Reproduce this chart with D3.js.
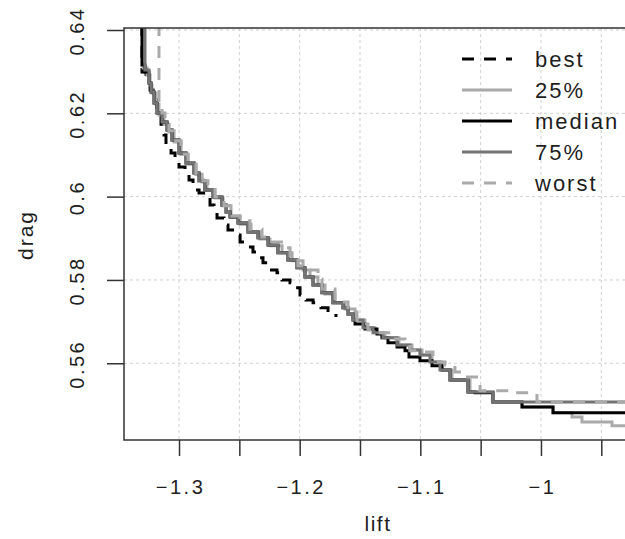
<!DOCTYPE html>
<html>
<head>
<meta charset="utf-8">
<script src="https://cdn.jsdelivr.net/npm/d3@7"></script>
<style>
  body { margin: 0; background: #fff; }
  text { font-family: "Liberation Sans", Arial, sans-serif; fill: #1e1e1e; }
</style>
</head>
<body>
<div id="chart"></div>
<script>
// series: [lift, drag] pairs (step fronts)
var best = [
    [-1.3307, 0.652], [-1.3307, 0.6299], [-1.3273, 0.6280], [-1.3240, 0.6256], [-1.3215, 0.6232],
    [-1.3182, 0.6203], [-1.3149, 0.6174], [-1.3124, 0.6148], [-1.3108, 0.6119], [-1.3066, 0.6105],
    [-1.3033, 0.6093], [-1.3000, 0.6071], [-1.2950, 0.6057], [-1.2917, 0.6040], [-1.2884, 0.6016],
    [-1.2834, 0.6009], [-1.2776, 0.5997], [-1.2743, 0.5980], [-1.2710, 0.5963], [-1.2685, 0.5949],
    [-1.2627, 0.5932], [-1.2594, 0.5920], [-1.2528, 0.5908], [-1.2494, 0.5891], [-1.2428, 0.5879],
    [-1.2387, 0.5867], [-1.2337, 0.5853], [-1.2304, 0.5841], [-1.2254, 0.5824], [-1.2188, 0.5817],
    [-1.2146, 0.5800], [-1.2080, 0.5793], [-1.2047, 0.5781], [-1.1997, 0.5764], [-1.1947, 0.5752],
    [-1.1889, 0.5745], [-1.1823, 0.5733], [-1.1765, 0.5723], [-1.1699, 0.5711]
];

var q25 = [
    [-1.3298, 0.652], [-1.3298, 0.6309], [-1.3265, 0.6292], [-1.3240, 0.6268], [-1.3224, 0.6249],
    [-1.3191, 0.6222], [-1.3166, 0.6196], [-1.3124, 0.6174], [-1.3083, 0.6155], [-1.3041, 0.6131],
    [-1.2983, 0.6102], [-1.2925, 0.6078], [-1.2859, 0.6054], [-1.2809, 0.6035], [-1.2768, 0.6016],
    [-1.2702, 0.5997], [-1.2635, 0.5978], [-1.2569, 0.5951], [-1.2494, 0.5934], [-1.2403, 0.5915],
    [-1.2329, 0.5898], [-1.2246, 0.5882], [-1.2146, 0.5865], [-1.2063, 0.5846], [-1.1972, 0.5824],
    [-1.1914, 0.5807], [-1.1848, 0.5788], [-1.1790, 0.5766], [-1.1707, 0.5745], [-1.1624, 0.5730],
    [-1.1541, 0.5704], [-1.1459, 0.5685], [-1.1376, 0.5673], [-1.1293, 0.5661], [-1.1177, 0.5644],
    [-1.1069, 0.5632], [-1.0986, 0.5620], [-1.0903, 0.5603], [-1.0820, 0.5584], [-1.0737, 0.5560],
    [-1.0588, 0.5531], [-1.0398, 0.5507], [-1.0157, 0.5495], [-0.9900, 0.5481], [-0.9743, 0.5471],
    [-0.9660, 0.5459], [-0.9411, 0.5450], [-0.9279, 0.5450]
];

var median = [
    [-1.3307, 0.652], [-1.3307, 0.6316], [-1.3282, 0.6299], [-1.3249, 0.6273], [-1.3232, 0.6251],
    [-1.3207, 0.6225], [-1.3182, 0.6201], [-1.3141, 0.6179], [-1.3099, 0.6160], [-1.3058, 0.6136],
    [-1.3000, 0.6105], [-1.2942, 0.6081], [-1.2876, 0.6057], [-1.2834, 0.6038], [-1.2785, 0.6016],
    [-1.2718, 0.5999], [-1.2644, 0.5980], [-1.2610, 0.5963], [-1.2577, 0.5951], [-1.2511, 0.5937],
    [-1.2428, 0.5915], [-1.2345, 0.5901], [-1.2262, 0.5884], [-1.2180, 0.5865], [-1.2097, 0.5848],
    [-1.2022, 0.5829], [-1.1956, 0.5807], [-1.1889, 0.5788], [-1.1815, 0.5769], [-1.1724, 0.5745],
    [-1.1641, 0.5733], [-1.1599, 0.5718], [-1.1558, 0.5704], [-1.1541, 0.5694], [-1.1459, 0.5682],
    [-1.1359, 0.5670], [-1.1318, 0.5661], [-1.1268, 0.5649], [-1.1193, 0.5639], [-1.1127, 0.5630],
    [-1.1094, 0.5615], [-1.1003, 0.5606], [-1.0903, 0.5594], [-1.0820, 0.5584], [-1.0754, 0.5560],
    [-1.0605, 0.5531], [-1.0547, 0.5529], [-1.0398, 0.5507], [-1.0157, 0.5495], [-0.9900, 0.5481],
    [-0.9279, 0.5481]
];

var q75 = [
    [-1.3282, 0.652], [-1.3282, 0.6304], [-1.3249, 0.6273], [-1.3232, 0.6251], [-1.3207, 0.6225],
    [-1.3182, 0.6201], [-1.3141, 0.6179], [-1.3099, 0.6160], [-1.3058, 0.6136], [-1.3000, 0.6105],
    [-1.2942, 0.6081], [-1.2876, 0.6057], [-1.2834, 0.6038], [-1.2785, 0.6016], [-1.2718, 0.5999],
    [-1.2644, 0.5980], [-1.2610, 0.5963], [-1.2577, 0.5951], [-1.2511, 0.5937], [-1.2428, 0.5915],
    [-1.2345, 0.5901], [-1.2262, 0.5884], [-1.2180, 0.5865], [-1.2097, 0.5848], [-1.2022, 0.5829],
    [-1.1956, 0.5807], [-1.1889, 0.5788], [-1.1815, 0.5769], [-1.1724, 0.5745], [-1.1641, 0.5733],
    [-1.1599, 0.5718], [-1.1558, 0.5704], [-1.1475, 0.5685], [-1.1392, 0.5673], [-1.1309, 0.5661],
    [-1.1193, 0.5644], [-1.1086, 0.5632], [-1.1003, 0.5620], [-1.0920, 0.5603], [-1.0837, 0.5584],
    [-1.0754, 0.5560], [-1.0605, 0.5531], [-1.0398, 0.5507], [-0.9279, 0.5507]
];

var worst = [
    [-1.3166, 0.652], [-1.3166, 0.6227], [-1.3141, 0.6201], [-1.3116, 0.6179], [-1.3083, 0.6158],
    [-1.3041, 0.6134], [-1.2983, 0.6102], [-1.2925, 0.6078], [-1.2859, 0.6054], [-1.2801, 0.6038],
    [-1.2760, 0.6021], [-1.2702, 0.5999], [-1.2627, 0.5978], [-1.2561, 0.5954], [-1.2494, 0.5942],
    [-1.2412, 0.5922], [-1.2312, 0.5903], [-1.2262, 0.5891], [-1.2138, 0.5877], [-1.2080, 0.5853],
    [-1.2014, 0.5834], [-1.1914, 0.5824], [-1.1848, 0.5802], [-1.1815, 0.5778], [-1.1707, 0.5747],
    [-1.1599, 0.5723], [-1.1525, 0.5694], [-1.1434, 0.5680], [-1.1334, 0.5673], [-1.1226, 0.5658],
    [-1.1127, 0.5649], [-1.1086, 0.5630], [-1.1003, 0.5627], [-1.0895, 0.5603], [-1.0795, 0.5596],
    [-1.0713, 0.5579], [-1.0630, 0.5567], [-1.0505, 0.5534], [-1.0257, 0.5529], [-1.0033, 0.5507],
    [-0.9279, 0.5507]
];

var seriesNames = ["best", "25%", "median", "75%", "worst"];
var xTicks = [-1.3, -1.25, -1.2, -1.15, -1.1, -1.05, -1, -0.95];
var xTickLabels = ["\u22121.3", "", "\u22121.2", "", "\u22121.1", "", "\u22121", ""];
var yTicks = [0.56, 0.58, 0.6, 0.62, 0.64];
var yTickLabels = ["0.56", "0.58", "0.6", "0.62", "0.64"];

// SVG parameters
var svgWidth = 625;
var svgHeight = 539;
var plot = { left: 124, right: 630, top: 28, bottom: 440 };

var svg = d3.select("#chart")
    .append("svg")
    .attr("width", svgWidth)
    .attr("height", svgHeight);

var xScale = d3.scaleLinear()
    .domain([-1.3456, -0.9262])
    .range([plot.left, plot.right]);

var yScale = d3.scaleLinear()
    .domain([0.54158, 0.64048])
    .range([plot.bottom, plot.top]);

// grid
var grid = svg.append("g")
    .attr("stroke", "#d0d0d0")
    .attr("stroke-width", 1)
    .attr("stroke-dasharray", "3,3");

grid.selectAll("line.vx")
    .data(xTicks)
    .enter()
    .append("line")
    .attr("x1", d => xScale(d))
    .attr("x2", d => xScale(d))
    .attr("y1", plot.top)
    .attr("y2", plot.bottom);

grid.selectAll("line.hy")
    .data(yTicks)
    .enter()
    .append("line")
    .attr("x1", plot.left)
    .attr("x2", plot.right)
    .attr("y1", d => yScale(d))
    .attr("y2", d => yScale(d));

// lines
svg.append("clipPath")
    .attr("id", "clip")
    .append("rect")
    .attr("x", plot.left)
    .attr("y", plot.top)
    .attr("width", plot.right - plot.left)
    .attr("height", plot.bottom - plot.top);

var styles = [
    { data: best, color: "#000", dash: "12,10" },
    { data: q25, color: "#aaaaaa", dash: null },
    { data: median, color: "#000", dash: null },
    { data: q75, color: "#737373", dash: null },
    { data: worst, color: "#aaaaaa", dash: "12,10" }
];

var line = d3.line()
    .x(d => xScale(d[0]))
    .y(d => yScale(d[1]))
    .curve(d3.curveStepAfter);

var linesGroup = svg.append("g").attr("clip-path", "url(#clip)");

styles.forEach(function(s) {
    linesGroup.append("path")
        .attr("d", line(s.data))
        .attr("fill", "none")
        .attr("stroke", s.color)
        .attr("stroke-width", 3)
        .attr("stroke-dasharray", s.dash);
});

// axes
var bottomAxis = d3.axisBottom(xScale)
    .tickValues(xTicks)
    .tickFormat((d, i) => xTickLabels[i])
    .tickSize(16)
    .tickPadding(24);

var leftAxis = d3.axisLeft(yScale)
    .tickValues(yTicks)
    .tickSize(17);

var xAxis = svg.append("g")
    .attr("transform", `translate(0, ${plot.bottom})`)
    .call(bottomAxis);
xAxis.select(".domain").remove();
xAxis.selectAll("line").attr("stroke", "#333").attr("stroke-width", 1.5);
xAxis.selectAll("text")
    .attr("font-size", 20)
    .attr("font-family", "Liberation Sans")
    .attr("letter-spacing", 2.5)
    .attr("dx", 1)
    .attr("fill", "#1e1e1e");

var yAxis = svg.append("g")
    .attr("transform", `translate(${plot.left}, 0)`)
    .call(leftAxis);
yAxis.select(".domain").remove();
yAxis.selectAll("line").attr("stroke", "#333").attr("stroke-width", 1.5);
yAxis.selectAll("text").remove();

svg.selectAll("text.ylab")
    .data(yTicks)
    .enter()
    .append("text")
    .attr("class", "ylab")
    .attr("transform", d => `translate(84, ${yScale(d) + 1}) rotate(-90)`)
    .attr("text-anchor", "middle")
    .attr("font-size", 20)
    .attr("letter-spacing", 2.5)
    .text((d, i) => yTickLabels[i]);

// box (left, top, bottom)
svg.append("path")
    .attr("d", `M${plot.right},${plot.top}H${plot.left}V${plot.bottom}H${plot.right}`)
    .attr("fill", "none")
    .attr("stroke", "#333")
    .attr("stroke-width", 1.5);

// axis titles
svg.append("text")
    .attr("x", (plot.left + plot.right) / 2 + 1)
    .attr("y", 531)
    .attr("text-anchor", "middle")
    .attr("font-size", 21)
    .attr("letter-spacing", 1.5)
    .text("lift");

svg.append("text")
    .attr("transform", `translate(33, ${(plot.top + plot.bottom) / 2 + 1}) rotate(-90)`)
    .attr("text-anchor", "middle")
    .attr("font-size", 21)
    .attr("letter-spacing", 2)
    .text("drag");

// legend
var legend = svg.append("g");
styles.forEach(function(s, i) {
    var y = 59 + i * 31;
    legend.append("line")
        .attr("x1", 462)
        .attr("x2", 512)
        .attr("y1", y)
        .attr("y2", y)
        .attr("stroke", s.color)
        .attr("stroke-width", 3)
        .attr("stroke-dasharray", s.dash);
    legend.append("text")
        .attr("x", 535)
        .attr("y", y + 8)
        .attr("font-size", 22)
        .attr("letter-spacing", 2)
        .text(seriesNames[i]);
});
</script>
</body>
</html>
